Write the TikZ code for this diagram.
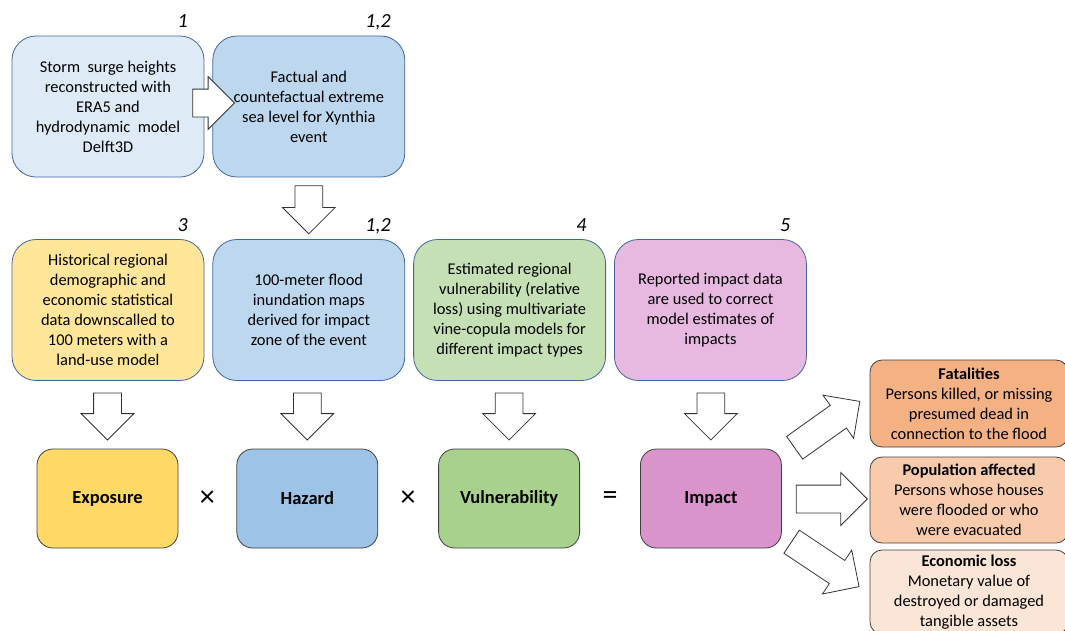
\documentclass[tikz,border=0pt]{standalone}
\usepackage{fontspec}
\setmainfont{Carlito}
\usetikzlibrary{positioning,shapes.arrows,calc}
\definecolor{InfoEdge}{HTML}{41679E}
\definecolor{BoxGrey}{HTML}{404040}
\definecolor{SurgeBlue}{HTML}{DEEBF7}
\definecolor{SeaBlue}{HTML}{BDD7EE}
\definecolor{ExpoPale}{HTML}{FFE699}
\definecolor{VulnPale}{HTML}{C5E0B4}
\definecolor{ImpactPale}{HTML}{E7B9E0}
\definecolor{ExpoGold}{HTML}{FFD966}
\definecolor{HazBlue}{HTML}{9DC3E6}
\definecolor{VulnGreen}{HTML}{A9D18E}
\definecolor{ImpactPink}{HTML}{D994CC}
\definecolor{FatalOrange}{HTML}{F4B183}
\definecolor{AffectPeach}{HTML}{F8CBAD}
\definecolor{EconCream}{HTML}{FBE5D6}

\begin{document}
\begin{tikzpicture}[x=1pt, y=-1pt, every node/.style={font=\fontsize{16.4}{20}\selectfont}]
\tikzstyle{info}=[draw=InfoEdge, line width=0.8pt, rounded corners=24pt, minimum width=192pt, minimum height=141pt, align=center]
\tikzstyle{factor}=[draw=BoxGrey, line width=0.8pt, rounded corners=16pt, minimum width=141pt, minimum height=99pt, font=\fontsize{18.5}{20}\selectfont\bfseries]
\tikzstyle{outcome}=[draw=BoxGrey, line width=0.8pt, rounded corners=12pt, minimum width=198pt, align=center]
\tikzstyle{refnum}=[font=\fontsize{20}{20}\selectfont\itshape, anchor=base east]
\tikzstyle{opsym}=[font=\fontsize{30}{30}\selectfont]
\tikzstyle{fatarrow}=[draw=black!80, fill=white, line width=0.8pt, single arrow, single arrow head extend=12.5pt, inner sep=13.5pt, sloped, allow upside down, pos=0, anchor=tail]
\useasboundingbox (0,0) rectangle (1065,630);
\clip (0,0) rectangle (1065,630);

% sources
\node[info, fill=SurgeBlue] (surge) at (108,106.5) {Storm\ \ surge heights\\reconstructed with\\ERA5 and\\hydrodynamic\ \ model\\Delft3D};
\node[info, fill=SeaBlue, right=8pt of surge] (sea) {Factual and\\countefactual extreme\\sea level for Xynthia\\event};
\node[info, fill=ExpoPale] (hist) at (108,310) {Historical regional\\demographic and\\economic statistical\\data downscalled to\\100 meters with a\\land-use model};
\node[info, fill=SeaBlue, right=8pt of hist] (inund) {100-meter flood\\inundation maps\\derived for impact\\zone of the event};
\node[info, fill=VulnPale, right=8pt of inund] (copula) {Estimated regional\\vulnerability (relative\\loss) using multivariate\\vine-copula models for\\different impact types};
\node[info, fill=ImpactPale, right=8pt of copula] (report) {Reported impact data\\are used to correct\\model estimates of\\impacts};

% reference numbers
\node[refnum] (n1) at ($(surge.north east)+(-13,-8)$) {1};
\node[refnum] (n2) at ($(sea.north east)+(-11,-8)$) {1,2};
\node[refnum] (n3) at ($(hist.north east)+(-13,-8)$) {3};
\node[refnum] (n4) at ($(inund.north east)+(-11,-8)$) {1,2};
\node[refnum] (n5) at ($(copula.north east)+(-16,-8)$) {4};
\node[refnum] (n6) at ($(report.north east)+(-13,-8)$) {5};

% risk equation
\node[factor, fill=ExpoGold] (expo) at (107.5,498.5) {Exposure};
\node[factor, fill=HazBlue, right=58pt of expo] (haz) {Hazard};
\node[factor, fill=VulnGreen, right=60pt of haz] (vuln) {Vulnerability};
\node[factor, fill=ImpactPink, right=60pt of vuln] (impact) {Impact};
\node[opsym] (times1) at ($(expo.east)!0.5!(haz.west)$) {×};
\node[opsym] (times2) at ($(haz.east)!0.5!(vuln.west)$) {×};
\node[opsym] (equals) at ($(vuln.east)!0.5!(impact.west)$) {=};

% impact types
\node[outcome, fill=FatalOrange, minimum height=87pt] (fatal) at (969,403.5) {\textbf{Fatalities}\\Persons killed, or missing\\presumed dead in\\connection to the flood};
\node[outcome, fill=AffectPeach, minimum height=86pt] (affect) at (969,500) {\textbf{Population affected}\\Persons whose houses\\were flooded or who\\were evacuated};
\node[outcome, fill=EconCream, minimum height=84pt] (econ) at (969,592) {\textbf{Economic loss}\\Monetary value of\\destroyed or damaged\\tangible assets};

% block arrows
\path ($(surge.east)+(-12,-3.5)$) -- node[fatarrow, minimum height=32pt] (a1) {} ($(sea.west)+(12,-3.5)$);
\path ($(sea.south)+(0,8)$) -- node[fatarrow, minimum height=48pt] (a2) {} ($(inund.north)+(0,-7)$);
\path ($(expo.north)+(0,-56)$) -- node[fatarrow, minimum height=47pt] (a3) {} ($(expo.north)+(0,-9)$);
\path ($(haz.north)+(0,-56)$) -- node[fatarrow, minimum height=47pt] (a4) {} ($(haz.north)+(0,-9)$);
\path ($(vuln.north)+(0,-56)$) -- node[fatarrow, minimum height=47pt] (a5) {} ($(vuln.north)+(0,-9)$);
\path ($(impact.north)+(0,-56)$) -- node[fatarrow, minimum height=47pt] (a6) {} ($(impact.north)+(0,-9)$);
\path ($(impact.east)+(12.5,-50.5)$) -- node[fatarrow, minimum height=80pt] (a7) {} ($(fatal.west)+(-12,-0.5)$);
\path ($(impact.east)+(14,0.5)$) -- node[fatarrow, minimum height=71pt] (a8) {} ($(affect.west)+(-6,-1)$);
\path ($(impact.east)+(9.5,43)$) -- node[fatarrow, minimum height=81pt] (a9) {} ($(econ.west)+(-13,-7)$);
\end{tikzpicture}
\end{document}
